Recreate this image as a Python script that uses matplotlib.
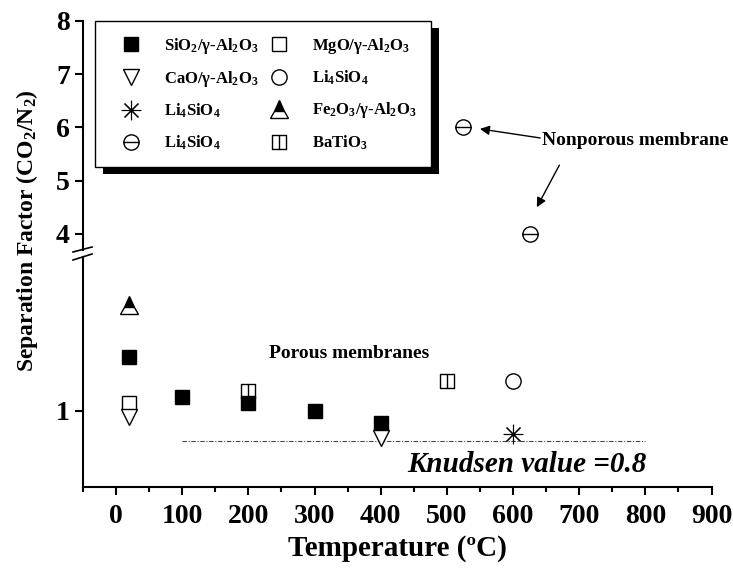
import matplotlib
matplotlib.use("Agg")
import matplotlib.pyplot as plt
from matplotlib.path import Path
from matplotlib.patches import Rectangle
from matplotlib.lines import Line2D

plt.rcParams['font.family'] = ['Liberation Serif', 'DejaVu Serif']
plt.rcParams['font.weight'] = 'bold'
plt.rcParams['axes.labelweight'] = 'bold'
plt.rcParams['mathtext.default'] = 'regular'

# ---------------- data ----------------
sio2_T = [20, 100, 200, 300, 400]
sio2_S = [1.35, 1.09, 1.05, 1.00, 0.92]
mgo_T = [20]
mgo_S = [1.05]
cao_T = [20, 400]
cao_S = [0.96, 0.82]
li_star_T = [600]
li_star_S = [0.85]
li_circ_T = [600]
li_circ_S = [1.19]
fe_T = [20]
fe_S = [1.69]
li_np_T = [525, 625]
li_np_S = [6.0, 4.0]
bati_T = [200, 500]
bati_S = [1.13, 1.19]
knudsen_T = [100, 800]
knudsen_S = [0.8, 0.8]

x_ticks = [0, 100, 200, 300, 400, 500, 600, 700, 800, 900]
upper_ticks = [4, 5, 6, 7, 8]
lower_ticks = [1]

# ---------------- custom markers ----------------
circ_minus = Path.make_compound_path(
    Path.unit_circle(),
    Path([(-1, 0), (1, 0)], [Path.MOVETO, Path.LINETO]))
sq_vline = Path.make_compound_path(
    Path([(-1, -1), (1, -1), (1, 1), (-1, 1), (-1, -1)],
         [Path.MOVETO, Path.LINETO, Path.LINETO, Path.LINETO, Path.CLOSEPOLY]),
    Path([(0, -1), (0, 1)], [Path.MOVETO, Path.LINETO]))

W, H = 733, 570
fig = plt.figure(figsize=(W / 100, H / 100), dpi=100)
fig.patch.set_facecolor('white')

left = 83 / W
width = 628.5 / W
ax_lo = fig.add_axes([left, 1 - 487.3 / H, width, (487.3 - 257) / H])
ax_hi = fig.add_axes([left, 1 - 250 / H, width, (250 - 20.7) / H])
for a in (ax_lo, ax_hi):
    a.patch.set_visible(False)
    a.set_xlim(-50, 900)
    for s in ('top', 'right'):
        a.spines[s].set_visible(False)
    a.spines['left'].set_linewidth(1.5)
    a.spines['bottom'].set_linewidth(1.5)
    a.tick_params(axis='both', direction='out', width=1.5, length=6,
                  labelsize=20)

ax_lo.set_ylim(0.5, 2.0)
ax_hi.set_ylim(3.698, 8)
ax_hi.spines['bottom'].set_visible(False)
ax_hi.tick_params(axis='x', which='both', bottom=False, labelbottom=False)

ax_lo.set_xticks(x_ticks)
ax_lo.set_xticks(range(-50, 901, 100), minor=True)
ax_lo.tick_params(axis='x', which='minor', direction='out', length=3.5, width=1.5)
ax_lo.set_yticks(lower_ticks)
ax_hi.set_yticks(upper_ticks)
ax_lo.tick_params(axis='x', pad=6)

ms = dict(linestyle='none', markeredgecolor='black', markeredgewidth=1.0)

h_sio2, = ax_lo.plot(sio2_T, sio2_S, marker='s', markersize=10,
                     markerfacecolor='black', **ms, zorder=3)
h_mgo, = ax_lo.plot(mgo_T, mgo_S, marker='s', markersize=10,
                    markerfacecolor='none', **ms, zorder=3)
h_cao, = ax_lo.plot(cao_T, cao_S, marker='v', markersize=12,
                    markerfacecolor='white', **ms, zorder=4)
h_star, = ax_lo.plot(li_star_T, li_star_S, marker=(8, 2, 0), markersize=14,
                     linestyle='none', markeredgecolor='black',
                     markeredgewidth=0.8, zorder=3)
h_circ, = ax_lo.plot(li_circ_T, li_circ_S, marker='o', markersize=11,
                     markerfacecolor='none', **ms, zorder=3)
h_fe, = ax_lo.plot(fe_T, fe_S, marker='^', markersize=13, fillstyle='top',
                   markerfacecolor='black', markerfacecoloralt='white', **ms,
                   zorder=3)
h_bati, = ax_lo.plot(bati_T, bati_S, marker=sq_vline, markersize=10,
                     markerfacecolor='none', **ms, zorder=2)
h_np, = ax_hi.plot(li_np_T, li_np_S, marker=circ_minus, markersize=11,
                   markerfacecolor='none', **ms, zorder=3)

ax_lo.plot(knudsen_T, knudsen_S, color='#444444', lw=0.8,
           linestyle=(0, (4, 1.5, 1, 1.5)), zorder=1)

ax_lo.text(353, 1.37, 'Porous membranes', fontsize=14, ha='center',
           va='center')
ax_lo.text(621, 0.65, 'Knudsen value =0.8', fontsize=21, style='italic',
           ha='center', va='center')
ax_hi.text(785, 5.76, 'Nonporous membrane', fontsize=14, ha='center',
           va='center', clip_on=False)
arrow = dict(arrowstyle='-|>', color='black', lw=1.0, mutation_scale=14,
             shrinkA=0, shrinkB=0)
ax_hi.annotate('', xy=(550, 5.97), xytext=(641, 5.80), arrowprops=arrow)
ax_hi.annotate('', xy=(636, 4.50), xytext=(670, 5.29), arrowprops=arrow)

ax_lo.set_xlabel('Temperature (ºC)', fontsize=21, fontweight='bold',
                 labelpad=4)
fig.text(27 / W, 1 - 231 / H, 'Separation Factor (CO$_2$/N$_2$)',
         rotation=90, fontsize=17, fontweight='bold', ha='center',
         va='center')

# axis break marks
for (x0, y0, x1, y1) in [(73, 252, 92, 247), (73, 260, 92, 254)]:
    fig.add_artist(Line2D([x0 / W, x1 / W], [1 - y0 / H, 1 - y1 / H],
                          transform=fig.transFigure, color='black', lw=1.2))

handles = [h_sio2, h_cao, h_star, h_np, h_mgo, h_circ, h_fe, h_bati]
labels = ['SiO$_2$/γ-Al$_2$O$_3$', 'CaO/γ-Al$_2$O$_3$', 'Li$_4$SiO$_4$',
          'Li$_4$SiO$_4$', 'MgO/γ-Al$_2$O$_3$', 'Li$_4$SiO$_4$',
          'Fe$_2$O$_3$/γ-Al$_2$O$_3$', 'BaTiO$_3$']
leg = ax_hi.legend(handles, labels, ncol=2, loc='upper left',
                   bbox_to_anchor=(95 / W, 1 - 21 / H),
                   bbox_transform=fig.transFigure, fontsize=12,
                   frameon=True, fancybox=False, edgecolor='black',
                   framealpha=1, borderpad=0.9, labelspacing=0.78,
                   handlelength=2.5, handletextpad=0.72, columnspacing=0.0,
                   borderaxespad=0)
leg.get_frame().set_linewidth(1.0)
leg.set_zorder(6)

fig.canvas.draw()
bb = leg.get_window_extent()
ax_hi.add_artist(Rectangle(((bb.x0 + 8) / W, (bb.y0 - 7) / H),
                           bb.width / W, bb.height / H,
                           transform=fig.transFigure, facecolor='black',
                           edgecolor='none', zorder=5.5, clip_on=False))

fig.savefig('out.png', dpi=100)
